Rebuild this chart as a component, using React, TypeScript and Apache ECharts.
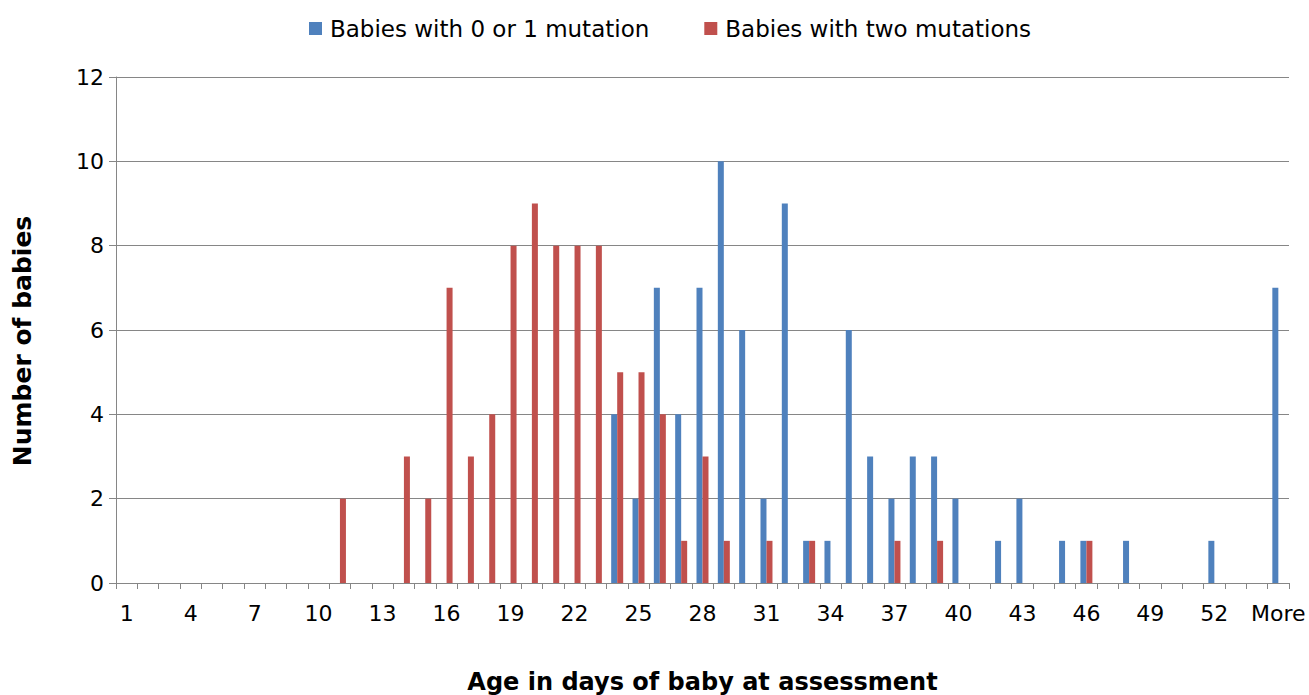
import { useEffect, useRef } from "react";
import * as echarts from "echarts";

const categories = [
  "1", "2", "3", "4", "5", "6", "7", "8", "9", "10",
  "11", "12", "13", "14", "15", "16", "17", "18", "19", "20",
  "21", "22", "23", "24", "25", "26", "27", "28", "29", "30",
  "31", "32", "33", "34", "35", "36", "37", "38", "39", "40",
  "41", "42", "43", "44", "45", "46", "47", "48", "49", "50",
  "51", "52", "53", "54", "More",
];

// Babies with 0 or 1 mutation
const blueCounts = [
  0, 0, 0, 0, 0, 0, 0, 0, 0, 0,
  0, 0, 0, 0, 0, 0, 0, 0, 0, 0,
  0, 0, 0, 4, 2, 7, 4, 7, 10, 6,
  2, 9, 1, 1, 6, 3, 2, 3, 3, 2,
  0, 1, 2, 0, 1, 1, 0, 1, 0, 0,
  0, 1, 0, 0, 7,
];

// Babies with two mutations
const redCounts = [
  0, 0, 0, 0, 0, 0, 0, 0, 0, 0,
  2, 0, 0, 3, 2, 7, 3, 4, 8, 9,
  8, 8, 8, 5, 5, 4, 1, 3, 1, 0,
  1, 0, 1, 0, 0, 0, 1, 0, 1, 0,
  0, 0, 0, 0, 0, 1, 0, 0, 0, 0,
  0, 0, 0, 0, 0,
];

const seriesNames = ["Babies with 0 or 1 mutation", "Babies with two mutations"];
const seriesColors = ["#4F81BD", "#C0504D"];
const yMin = 0;
const yMax = 12;
const yStep = 2;
const xTitle = "Age in days of baby at assessment";
const yTitle = "Number of babies";

const FONT = "DejaVu Sans";
const GRID = "#868686";

export default function App() {
  const ref = useRef<HTMLDivElement>(null);
  useEffect(() => {
    const chart = echarts.init(ref.current!, null, { renderer: "svg" });
    chart.setOption({
      animation: false,
      backgroundColor: "#ffffff",
      textStyle: { fontFamily: FONT, color: "#000" },
      legend: {
        top: 12,
        left: 304,
        itemWidth: 13,
        itemHeight: 13,
        itemGap: 55,
        icon: "rect",
        textStyle: { fontFamily: FONT, fontSize: 23, color: "#000", padding: [0, 0, 0, 3] },
        data: seriesNames,
      },
      grid: {
        left: 116,
        right: 20,
        top: 77,
        bottom: 112,
        containLabel: false,
        outerBoundsMode: "none",
      },
      xAxis: {
        type: "category",
        data: categories,
        boundaryGap: true,
        name: xTitle,
        nameLocation: "middle",
        nameGap: 87,
        nameTextStyle: { fontFamily: FONT, fontSize: 24, fontWeight: "bold", color: "#000" },
        axisLine: { show: true, lineStyle: { color: GRID, width: 1 } },
        axisTick: { show: true, interval: 0, length: 6, alignWithLabel: false, lineStyle: { color: GRID } },
        axisLabel: { interval: 2, margin: 19, fontFamily: FONT, fontSize: 22, color: "#000" },
        splitLine: { show: false },
      },
      yAxis: {
        type: "value",
        min: yMin,
        max: yMax,
        interval: yStep,
        name: yTitle,
        nameLocation: "middle",
        nameGap: 81,
        nameRotate: 90,
        nameTextStyle: {
          fontFamily: FONT,
          fontSize: 25,
          fontWeight: "bold",
          color: "#000",
          padding: [0, 22, 0, 0],
        },
        axisLine: { show: true, lineStyle: { color: GRID, width: 1 } },
        axisTick: { show: true, length: 7, lineStyle: { color: GRID } },
        axisLabel: { margin: 12, fontFamily: FONT, fontSize: 22, color: "#000" },
        splitLine: { show: true, lineStyle: { color: GRID, width: 1 } },
      },
      series: [
        {
          name: seriesNames[0],
          type: "bar",
          data: blueCounts,
          barWidth: 6,
          barGap: "0%",
          itemStyle: { color: seriesColors[0] },
        },
        {
          name: seriesNames[1],
          type: "bar",
          data: redCounts,
          barWidth: 6,
          barGap: "0%",
          itemStyle: { color: seriesColors[1] },
        },
      ],
    });
    return () => chart.dispose();
  }, []);
  return (
    <div
      ref={ref}
      style={{ position: "absolute", left: 0, top: 0, width: 1309, height: 695 }}
    />
  );
}
